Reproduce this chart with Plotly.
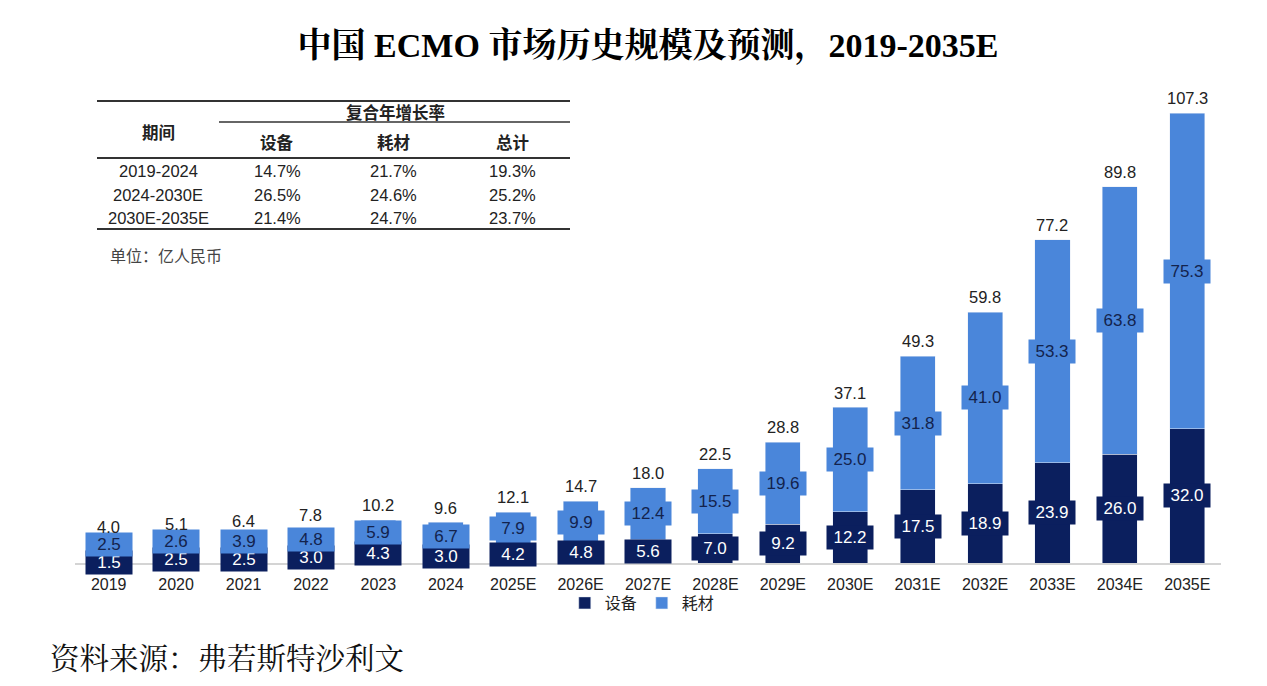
import plotly.graph_objects as go

years = ["2019", "2020", "2021", "2022", "2023", "2024", "2025E", "2026E", "2027E",
         "2028E", "2029E", "2030E", "2031E", "2032E", "2033E", "2034E", "2035E"]
equipment = [1.5, 2.5, 2.5, 3.0, 4.3, 3.0, 4.2, 4.8, 5.6, 7.0, 9.2, 12.2, 17.5, 18.9, 23.9, 26.0, 32.0]
consumables = [2.5, 2.6, 3.9, 4.8, 5.9, 6.7, 7.9, 9.9, 12.4, 15.5, 19.6, 25.0, 31.8, 41.0, 53.3, 63.8, 75.3]
totals = [4.0, 5.1, 6.4, 7.8, 10.2, 9.6, 12.1, 14.7, 18.0, 22.5, 28.8, 37.1, 49.3, 59.8, 77.2, 89.8, 107.3]

table_header = ["期间", "设备", "耗材", "总计"]
table_group = "复合年增长率"
table_periods = ["2019-2024", "2024-2030E", "2030E-2035E"]
table_equipment = ["14.7%", "26.5%", "21.4%"]
table_consumables = ["21.7%", "24.6%", "24.7%"]
table_total = ["19.3%", "25.2%", "23.7%"]

DARK = "#0b1f5e"
LIGHT = "#4a86da"
FONT = "Liberation Sans, Arial, Noto Sans CJK SC, sans-serif"
CJK = "Noto Sans CJK SC, sans-serif"

# page has an 8px body margin; figure sized to fit the window
OFF = 8
W, H = 1267 - 2 * OFF, 686 - 2 * OFF
ML, MR, MT, MB = 67, 38, 92, 115
PW = W - ML - MR
PH = H - MT - MB
YMAX = PH / 4.19
K = PH / YMAX  # px per unit


def px(x):
    return (x - OFF - ML) / PW


def py(y):
    return (H - MB - (y - OFF)) / PH


fig = go.Figure()
fig.add_trace(go.Bar(name="设备", x=years, y=equipment, marker_color=DARK, width=0.52,
                     hoverinfo="y"))
fig.add_trace(go.Bar(name="耗材", x=years, y=consumables, marker_color=LIGHT, width=0.52,
                     hoverinfo="y"))

annotations = []
MIN_GAP = 18  # minimal px distance between segment label centres
for i, (e, c, t) in enumerate(zip(equipment, consumables, totals)):
    d_px = e / 2 * K
    l_px = (e + c / 2) * K
    d_shift = l_shift = 0
    if l_px - d_px < MIN_GAP:
        extra = MIN_GAP - (l_px - d_px)
        d_shift = -extra * 0.3
        l_shift = extra * 0.7
    top_box = l_px + l_shift + 11
    t_shift = 4
    if t * K + t_shift < top_box - 4:
        t_shift = top_box - 4 - t * K
    annotations.append(dict(x=i, y=e / 2, xref="x", yref="y", text=f"{e:.1f}",
                            showarrow=False, font=dict(family=FONT, size=17, color="white"),
                            bgcolor=DARK, width=40, height=17, borderpad=3, yshift=d_shift))
    annotations.append(dict(x=i, y=e + c / 2, xref="x", yref="y", text=f"{c:.1f}",
                            showarrow=False, font=dict(family=FONT, size=17, color="#13234d"),
                            bgcolor=LIGHT, width=40, height=17, borderpad=3, yshift=l_shift))
    annotations.append(dict(x=i, y=t, xref="x", yref="y", text=f"{t:.1f}",
                            showarrow=False, yanchor="bottom", yshift=t_shift,
                            font=dict(family=FONT, size=16.5, color="#222222")))

# table
shapes = []


def hline(x0, x1, y, w=2):
    shapes.append(dict(type="line", xref="paper", yref="paper", x0=px(x0), x1=px(x1),
                       y0=py(y), y1=py(y), line=dict(color="#333333", width=w)))


hline(97, 570, 101)
hline(219, 570, 122, 1.5)
hline(97, 570, 158)
hline(97, 570, 229)


def txt(x, y, s, size=16.5, bold=False, color="#222222", xanchor="center", family=FONT):
    annotations.append(dict(x=px(x), y=py(y), xref="paper", yref="paper",
                            text=f"<b>{s}</b>" if bold else s, showarrow=False,
                            xanchor=xanchor, yanchor="middle",
                            font=dict(family=family, size=size, color=color)))


txt(395, 112, table_group, bold=True, family=CJK, size=16.5)
txt(158, 132, table_header[0], bold=True, family=CJK, size=16.5)
col_x = [277, 393, 512]
for cx, h in zip(col_x, table_header[1:]):
    txt(cx, 142, h, bold=True, family=CJK, size=16.5)
row_y = [171, 195, 218]
for ry, p, a, b, c in zip(row_y, table_periods, table_equipment, table_consumables, table_total):
    txt(158, ry, p)
    txt(col_x[0], ry, a)
    txt(col_x[1], ry, b)
    txt(col_x[2], ry, c)
txt(108, 255, "单位：亿人民币", size=16, color="#444444", xanchor="left", family=CJK)

# source
txt(48, 656, "资料来源：弗若斯特沙利文", size=29.5, color="#111111", xanchor="left",
    family="Noto Serif CJK SC, Noto Sans CJK SC, serif")

fig.update_layout(
    width=W, height=H,
    margin=dict(l=ML, r=MR, t=MT, b=MB),
    barmode="stack",
    paper_bgcolor="white", plot_bgcolor="white",
    title=dict(text="<b>中国 ECMO 市场历史规模及预测，2019-2035E</b>",
               x=0.5, xref="paper", y=1 - (45 - OFF) / H, yref="container", yanchor="middle",
               font=dict(family="Liberation Serif, Noto Serif CJK SC, Noto Sans CJK SC, serif",
                         size=34, color="#000000")),
    xaxis=dict(showline=True, linecolor="#d4d4d4", linewidth=1.5, showgrid=False,
               ticks="", tickfont=dict(family=FONT, size=16, color="#222222"),
               ticklabelstandoff=6, range=[-0.5, 16.5]),
    yaxis=dict(visible=False, range=[0, YMAX]),
    legend=dict(orientation="h", x=0.495, xanchor="center", y=py(603), yanchor="middle",
                bgcolor="rgba(0,0,0,0)",
                font=dict(family=CJK, size=16, color="#222222"), itemwidth=30,
                traceorder="normal"),
    annotations=annotations,
    shapes=shapes,
    bargap=0.48,
)

fig.write_html("out.html")
